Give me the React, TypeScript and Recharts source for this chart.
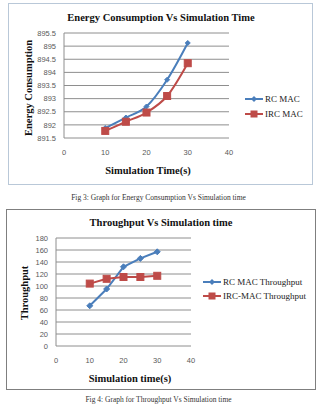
import React from "react";
import { LineChart, Line, XAxis, YAxis, CartesianGrid } from "recharts";

// Simulation times (s)
const SIM_TIME = [10, 15, 20, 25, 30];

// Energy consumption per protocol
const RC_ENERGY = [891.88, 892.28, 892.7, 893.72, 895.12];
const IRC_ENERGY = [891.77, 892.12, 892.47, 893.1, 894.35];

// Throughput per protocol
const RC_THROUGHPUT = [67, 95, 132, 146, 157];
const IRC_THROUGHPUT = [104, 112, 115, 115, 117];

// Axis ticks
const X_TICKS = [0, 10, 20, 30, 40];
const ENERGY_TICKS = [891.5, 892, 892.5, 893, 893.5, 894, 894.5, 895, 895.5];
const THROUGHPUT_TICKS = [0, 20, 40, 60, 80, 100, 120, 140, 160, 180];

const BLUE = "#4a7ebb";
const RED = "#be4b48";
const GRID = "#8e8e8e";
const SERIF = "'Liberation Serif', 'Times New Roman', serif";
const SANS = "'Liberation Sans', Arial, sans-serif";

const DiamondDot = (props: any) => {
  const { cx, cy, r } = props;
  if (cx == null || cy == null) return null;
  const s = r ?? 3;
  return (
    <polygon
      points={`${cx},${cy - s} ${cx + s},${cy} ${cx},${cy + s} ${cx - s},${cy}`}
      fill={BLUE}
      stroke={BLUE}
    />
  );
};

const SquareDot = (props: any) => {
  const { cx, cy, r } = props;
  if (cx == null || cy == null) return null;
  const s = r ?? 3.5;
  return <rect x={cx - s} y={cy - s} width={s * 2} height={s * 2} fill={RED} stroke={RED} />;
};

type ChartProps = {
  box: { left: number; top: number; width: number; height: number; border: string };
  title: string;
  titleY: number;
  titleX: number;
  yTitle: string;
  yTitleX: number;
  yTitleY: number;
  xTitle: string;
  xTitleX: number;
  xTitleY: number;
  rc: number[];
  irc: number[];
  rcName: string;
  ircName: string;
  yDomain: [number, number];
  yTicks: number[];
  plot: { left: number; right: number; top: number; bottom: number };
  legend: { left: number; top: number; gap: number };
  curve: "monotone" | "linear";
  rcDot: number;
  ircDot: number;
};

const textStyle = (x: number, y: number, rotate = false): React.CSSProperties => ({
  position: "absolute",
  left: x,
  top: y,
  transform: rotate ? "translate(-50%, -50%) rotate(-90deg)" : "translate(-50%, -50%)",
  fontFamily: SERIF,
  fontWeight: "bold",
  fontSize: 10.5,
  whiteSpace: "nowrap",
  color: "#111",
});

const SimChart = (p: ChartProps) => {
  const rows = SIM_TIME.map((t, i) => ({ t, rc: p.rc[i], irc: p.irc[i] }));
  const w = p.box.width - 2;
  const h = p.box.height - 2;
  const legendItems = [
    { name: p.rcName, color: BLUE, kind: "diamond" },
    { name: p.ircName, color: RED, kind: "square" },
  ];
  return (
    <div
      style={{
        position: "absolute",
        left: p.box.left,
        top: p.box.top,
        width: w,
        height: h,
        border: `1px solid ${p.box.border}`,
        background: "#fff",
      }}
    >
      <LineChart
        width={w}
        height={h}
        data={rows}
        margin={{ top: p.plot.top, right: w - p.plot.right, left: 0, bottom: 0 }}
      >
        <CartesianGrid stroke={GRID} strokeWidth={1} vertical={false} />
        <XAxis
          dataKey="t"
          type="number"
          domain={[0, 40]}
          ticks={X_TICKS}
          axisLine={false}
          tickLine={false}
          height={h - p.plot.bottom}
          tickMargin={6}
          tick={{ fontSize: 7.5, fill: "#595959", fontFamily: SANS }}
        />
        <YAxis
          type="number"
          domain={p.yDomain}
          ticks={p.yTicks}
          interval={0}
          width={p.plot.left}
          axisLine={{ stroke: GRID }}
          tickLine={false}
          tick={{ fontSize: 7.5, fill: "#595959", fontFamily: SANS }}
        />
        <Line
          type={p.curve}
          dataKey="rc"
          name={p.rcName}
          stroke={BLUE}
          strokeWidth={2}
          dot={<DiamondDot r={p.rcDot} />}
          isAnimationActive={false}
        />
        <Line
          type={p.curve}
          dataKey="irc"
          name={p.ircName}
          stroke={RED}
          strokeWidth={2}
          dot={<SquareDot r={p.ircDot} />}
          isAnimationActive={false}
        />
      </LineChart>
      <div style={textStyle(p.titleX, p.titleY)}>{p.title}</div>
      <div style={textStyle(p.yTitleX, p.yTitleY, true)}>{p.yTitle}</div>
      <div style={textStyle(p.xTitleX, p.xTitleY)}>{p.xTitle}</div>
      <div style={{ position: "absolute", left: p.legend.left, top: p.legend.top }}>
        {legendItems.map((it, i) => (
          <div
            key={i}
            style={{ display: "flex", alignItems: "center", height: p.legend.gap, whiteSpace: "nowrap" }}
          >
            <svg width={18} height={10} style={{ marginRight: 2 }}>
              <line x1={0} y1={5} x2={18} y2={5} stroke={it.color} strokeWidth={2} />
              {it.kind === "diamond" ? (
                <polygon points="9,2 12,5 9,8 6,5" fill={it.color} />
              ) : (
                <rect x={5.5} y={1.5} width={7} height={7} fill={it.color} />
              )}
            </svg>
            <span style={{ fontFamily: SERIF, fontSize: 9, color: "#222" }}>{it.name}</span>
          </div>
        ))}
      </div>
    </div>
  );
};

const Caption = ({ text, top }: { text: string; top: number }) => (
  <div
    style={{
      position: "absolute",
      left: 0,
      width: 317,
      top,
      textAlign: "center",
      fontFamily: SERIF,
      fontSize: 7.5,
      lineHeight: "9px",
      color: "#333",
      whiteSpace: "nowrap",
    }}
  >
    {text}
  </div>
);

export default function App() {
  return (
    <div
      style={{
        position: "absolute",
        left: 0,
        top: 0,
        width: 317,
        height: 405,
        background: "#fff",
        overflow: "hidden",
      }}
    >
      <SimChart
        box={{ left: 8, top: 3, width: 305, height: 182, border: "#b9c8d8" }}
        title="Energy Consumption Vs Simulation Time"
        titleX={152}
        titleY={13}
        yTitle="Energy Consumption"
        yTitleX={19}
        yTitleY={84}
        xTitle="Simulation Time(s)"
        xTitleX={139}
        xTitleY={166}
        rc={RC_ENERGY}
        irc={IRC_ENERGY}
        rcName="RC MAC"
        ircName="IRC MAC"
        yDomain={[891.5, 895.5]}
        yTicks={ENERGY_TICKS}
        plot={{ left: 55, right: 220, top: 29, bottom: 134 }}
        legend={{ left: 236, top: 87, gap: 15 }}
        curve="monotone"
        rcDot={2.5}
        ircDot={3.5}
      />
      <Caption text="Fig 3:  Graph for Energy Consumption Vs Simulation time" top={193} />
      <SimChart
        box={{ left: 6, top: 209, width: 310, height: 181, border: "#7f7f7f" }}
        title="Throughput Vs Simulation time"
        titleX={154}
        titleY={12}
        yTitle="Throughput"
        yTitleX={17}
        yTitleY={83}
        xTitle="Simulation time(s)"
        xTitleX={123}
        xTitleY={168}
        rc={RC_THROUGHPUT}
        irc={IRC_THROUGHPUT}
        rcName="RC MAC  Throughput"
        ircName="IRC-MAC Throughput"
        yDomain={[0, 180]}
        yTicks={THROUGHPUT_TICKS}
        plot={{ left: 49, right: 184, top: 28, bottom: 136 }}
        legend={{ left: 196, top: 65, gap: 14 }}
        curve="linear"
        rcDot={3}
        ircDot={3.5}
      />
      <Caption text="Fig 4:  Graph for Throughput Vs Simulation time" top={395} />
    </div>
  );
}
